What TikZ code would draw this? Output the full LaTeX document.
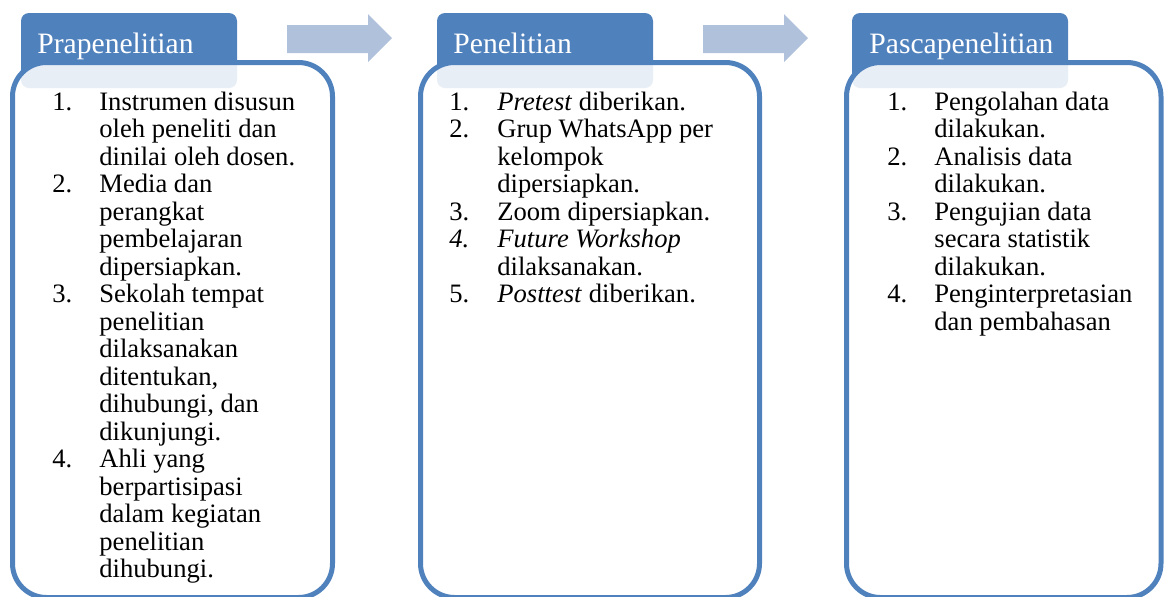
\documentclass[tikz,border=0pt]{standalone}
\usepackage{fontspec}
\setmainfont{Liberation Serif}
\usetikzlibrary{positioning}

\definecolor{tabblue}{RGB}{79,129,189}
\definecolor{arrowblue}{RGB}{176,194,219}

\tikzset{
  tabhead/.style={fill=tabblue, rounded corners=4pt, minimum width=108pt,
    minimum height=37.5pt, anchor=north west, inner sep=0pt, outer sep=0pt},
  stagebox/.style={draw=tabblue, line width=2.5pt, fill=white, fill opacity=0.87,
    rounded corners=17pt, minimum height=267.5pt, anchor=north west,
    inner sep=0pt, outer sep=0pt},
  tabtext/.style={text=white, font=\fontsize{14.8}{17}\selectfont,
    anchor=base west, inner sep=0pt},
  steplist/.style={font=\fontsize{13.3}{13.75}\selectfont, anchor=base west,
    inner sep=0pt},
  blockarrow/.style={fill=arrowblue}
}

\begin{document}
\begin{tikzpicture}[x=0.5pt, y=-0.5pt]
    \useasboundingbox (0,0) rectangle (1164,596);

    % Tabs
    \node[tabhead] (praTab) at (21,13) {};
    \node[tabhead] (penTab) at (437,13) {};
    \node[tabhead] (pasTab) at (852,13) {};

    % Stage boxes
    \node[stagebox, minimum width=160pt] (praBox) at (12.5,62.5) {};
    \node[stagebox, minimum width=169.5pt] (penBox) at (420.5,62.5) {};
    \node[stagebox, minimum width=157.25pt] (pasBox) at (846.5,62.5) {};

    % Block arrows
    \fill[blockarrow] (287,25) -- (368,25) -- (368,14) -- (392,38)
        -- (368,62) -- (368,53) -- (287,53) -- cycle;
    \fill[blockarrow] (703,25) -- (784,25) -- (784,14) -- (808,38)
        -- (784,62) -- (784,53) -- (703,53) -- cycle;

    % Titles
    \node[tabtext] (praTitle) at (37,53) {Prapenelitian};
    \node[tabtext] (penTitle) at (453,53) {Penelitian};
    \node[tabtext] (pasTitle) at (869,53) {Pascapenelitian};

    % Lists
    \node[steplist] (praList) at (52,110) {%
      \begin{tabular}[t]{@{}p{23.5pt}@{}l@{}}
        1. & Instrumen disusun\\
           & oleh peneliti dan\\
           & dinilai oleh dosen.\\
        2. & Media dan\\
           & perangkat\\
           & pembelajaran\\
           & dipersiapkan.\\
        3. & Sekolah tempat\\
           & penelitian\\
           & dilaksanakan\\
           & ditentukan,\\
           & dihubungi, dan\\
           & dikunjungi.\\
        4. & Ahli yang\\
           & berpartisipasi\\
           & dalam kegiatan\\
           & penelitian\\
           & dihubungi.
      \end{tabular}};
    \node[steplist] (penList) at (449,110) {%
      \begin{tabular}[t]{@{}p{24pt}@{}l@{}}
        1. & \textit{Pretest} diberikan.\\
        2. & Grup WhatsApp per\\
           & kelompok\\
           & dipersiapkan.\\
        3. & Zoom dipersiapkan.\\
        \textit{4.} & \textit{Future Workshop}\\
           & dilaksanakan.\\
        5. & \textit{Posttest} diberikan.
      \end{tabular}};
    \node[steplist] (pasList) at (887,110) {%
      \begin{tabular}[t]{@{}p{23.5pt}@{}l@{}}
        1. & Pengolahan data\\
           & dilakukan.\\
        2. & Analisis data\\
           & dilakukan.\\
        3. & Pengujian data\\
           & secara statistik\\
           & dilakukan.\\
        4. & Penginterpretasian\\
           & dan pembahasan
      \end{tabular}};
\end{tikzpicture}
\end{document}
